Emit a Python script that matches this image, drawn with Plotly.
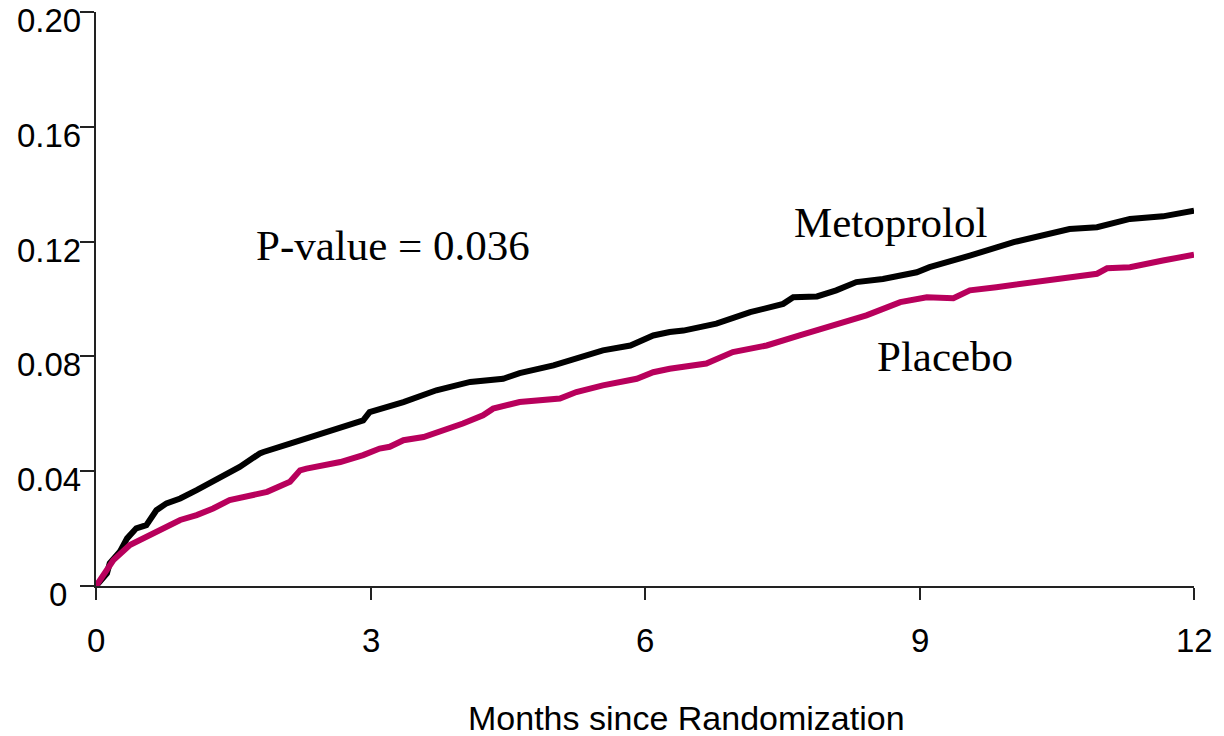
import plotly.graph_objects as go

# Metoprolol (black) cumulative incidence, months vs probability
meto_m = [0, 0.12, 0.15, 0.26, 0.34, 0.44, 0.55, 0.66, 0.77, 0.92, 1.10, 1.28, 1.50, 1.57, 1.79, 1.83,
          2.12, 2.41, 2.67, 2.92, 2.99, 3.36, 3.72, 4.09, 4.45, 4.63, 5.00, 5.25, 5.54, 5.84, 6.09,
          6.27, 6.42, 6.78, 7.15, 7.51, 7.62, 7.88, 8.09, 8.31, 8.60, 8.97, 9.11, 9.55, 10.03,
          10.64, 10.94, 11.30, 11.66, 12.0]
meto_v = [0, 0.0044, 0.0079, 0.0119, 0.0166, 0.0201, 0.0212, 0.0264, 0.0288, 0.0305, 0.0334, 0.0363,
          0.0398, 0.0415, 0.0462, 0.0467, 0.0496, 0.0525, 0.0554, 0.0577, 0.0606, 0.0641, 0.0682,
          0.0711, 0.0722, 0.0742, 0.0769, 0.0792, 0.0821, 0.0838, 0.0873, 0.0885, 0.0890, 0.0914,
          0.0954, 0.0983, 0.1006, 0.1009, 0.1030, 0.1059, 0.1070, 0.1093, 0.1111, 0.1151, 0.1198,
          0.1244, 0.1250, 0.1279, 0.1288, 0.1308]

# Placebo (crimson)
plac_m = [0, 0.19, 0.37, 0.55, 0.74, 0.92, 1.10, 1.28, 1.46, 1.65, 1.87, 2.12, 2.23, 2.30, 2.56, 2.67,
          2.92, 3.10, 3.21, 3.36, 3.58, 3.76, 4.01, 4.23, 4.34, 4.63, 5.07, 5.25, 5.54, 5.91, 6.09,
          6.27, 6.42, 6.67, 6.96, 7.33, 7.69, 8.09, 8.42, 8.79, 9.08, 9.37, 9.55, 9.84, 10.39,
          10.94, 11.05, 11.30, 11.66, 12.0]
plac_v = [0, 0.0090, 0.0143, 0.0172, 0.0201, 0.0230, 0.0247, 0.0270, 0.0299, 0.0311, 0.0328, 0.0363,
          0.0403, 0.0409, 0.0427, 0.0432, 0.0456, 0.0479, 0.0485, 0.0508, 0.0519, 0.0537, 0.0566,
          0.0595, 0.0618, 0.0641, 0.0653, 0.0676, 0.0699, 0.0722, 0.0745, 0.0757, 0.0763, 0.0775,
          0.0815, 0.0838, 0.0873, 0.0914, 0.0943, 0.0989, 0.1006, 0.1003, 0.1030, 0.1041, 0.1064,
          0.1088, 0.1107, 0.1111, 0.1134, 0.1154]

x_ticks = [0, 3, 6, 9, 12]
x_tick_labels = ["0", "3", "6", "9", "12"]
y_ticks = [0, 0.04, 0.08, 0.12, 0.16, 0.20]
y_tick_labels = ["0", "0.04", "0.08", "0.12", "0.16", "0.20"]

x_title = "Months since Randomization"
p_text = "P-value = 0.036"

BLACK = "#000000"
CRIMSON = "#B8005C"
SANS = "Liberation Sans, Arial, sans-serif"
SERIF = "Liberation Serif, Times New Roman, serif"

fig = go.Figure()
fig.add_trace(go.Scatter(x=meto_m, y=meto_v, mode="lines", name="Metoprolol",
                         line=dict(color=BLACK, width=6), showlegend=False))
fig.add_trace(go.Scatter(x=plac_m, y=plac_v, mode="lines", name="Placebo",
                         line=dict(color=CRIMSON, width=6), showlegend=False))

fig.update_xaxes(range=[0, 12], tickvals=x_ticks, showticklabels=False, ticks="outside",
                 ticklen=12, tickwidth=2, tickcolor="#222", showline=True, linecolor="#222",
                 linewidth=2, showgrid=False, zeroline=False)
fig.update_yaxes(range=[0, 0.20], tickvals=y_ticks, showticklabels=False, ticks="outside",
                 ticklen=14, tickwidth=2, tickcolor="#222", showline=True, linecolor="#222",
                 linewidth=2, showgrid=False, zeroline=False)

PLOT_W = 1098
PLOT_H = 574

annotations = []
for v, lab in zip(y_ticks, y_tick_labels):
    # the lone "0" label sits further left in the reference
    xs = -28 if lab == "0" else -14
    annotations.append(dict(x=0, y=v, xref="paper", yref="y", text=lab, showarrow=False,
                            xanchor="right", yanchor="top", xshift=xs, yshift=11,
                            borderpad=0,
                            font=dict(family=SANS, size=33, color="black")))
for v, lab in zip(x_ticks, x_tick_labels):
    annotations.append(dict(x=v, y=0, xref="x", yref="paper", text=lab, showarrow=False,
                            xanchor="center", yanchor="middle", yshift=-54,
                            font=dict(family=SANS, size=33, color="black")))
annotations.append(dict(x=(686 - 96) / PLOT_W, y=-(718 - 586) / PLOT_H, xref="paper", yref="paper",
                        text=x_title, showarrow=False, xanchor="center", yanchor="middle",
                        font=dict(family=SANS, size=34, color="black")))
annotations.append(dict(x=1.73, y=0.1186, xref="x", yref="y", text=p_text, showarrow=False,
                        xanchor="left", yanchor="middle",
                        font=dict(family=SERIF, size=43, color="black")))
annotations.append(dict(x=7.61, y=0.1266, xref="x", yref="y", text="Metoprolol", showarrow=False,
                        xanchor="left", yanchor="middle",
                        font=dict(family=SERIF, size=43, color="black")))
annotations.append(dict(x=8.51, y=0.0798, xref="x", yref="y", text="Placebo", showarrow=False,
                        xanchor="left", yanchor="middle",
                        font=dict(family=SERIF, size=43, color="black")))

fig.update_layout(width=1224, height=736, margin=dict(l=96, r=30, t=12, b=150),
                  plot_bgcolor="white", paper_bgcolor="white", annotations=annotations)

# remove the default 8px page margin so the figure fills the window exactly
fig.write_html("out.html", config={"displayModeBar": False},
               post_script="document.body.style.margin='0';document.body.style.overflow='hidden';")
